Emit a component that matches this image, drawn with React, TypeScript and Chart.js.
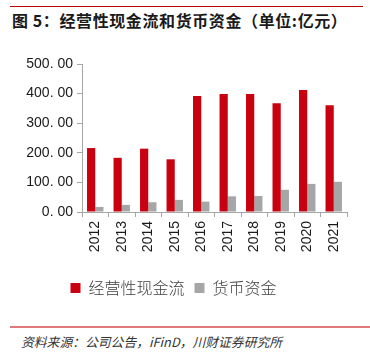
import React, { useEffect, useRef } from "react";
import { Chart, registerables } from "chart.js";

Chart.register(...registerables);

const years = ["2012", "2013", "2014", "2015", "2016", "2017", "2018", "2019", "2020", "2021"];
const operatingCashFlow = [216, 183, 214, 178, 392, 399, 399, 367, 412, 361];
const monetaryFunds = [17, 24, 33, 41, 35, 53, 54, 75, 95, 102];
const yTicks = [0, 100, 200, 300, 400, 500];

const titleText = "图 5：经营性现金流和货币资金（单位:亿元）";
const sourceText = "资料来源：公司公告，iFinD，川财证券研究所";
const seriesNames = ["经营性现金流", "货币资金"];

export default function App() {
  const ref = useRef<HTMLCanvasElement | null>(null);

  useEffect(() => {
    if (!ref.current) return;
    const axisColor = "#a6a6a6";
    const chart = new Chart(ref.current, {
      type: "bar",
      data: {
        labels: years,
        datasets: [
          {
            label: seriesNames[0],
            data: operatingCashFlow,
            backgroundColor: "#c8000f",
            categoryPercentage: 0.62,
            barPercentage: 1,
          },
          {
            label: seriesNames[1],
            data: monetaryFunds,
            backgroundColor: "#a6a6a6",
            categoryPercentage: 0.62,
            barPercentage: 1,
          },
        ],
      },
      options: {
        responsive: false,
        animation: false,
        layout: { padding: { top: 64, right: 23, left: 0, bottom: 0 } },
        plugins: {
          tooltip: { enabled: false },
          legend: {
            position: "bottom",
            labels: {
              boxWidth: 10,
              boxHeight: 10,
              padding: 10,
              color: "#404040",
              font: { family: "'Noto Sans CJK SC', sans-serif", size: 16, weight: 300 },
            },
          },
        },
        scales: {
          x: {
            grid: {
              display: true,
              drawOnChartArea: false,
              drawTicks: true,
              tickLength: 5,
              color: axisColor,
              offset: true,
            },
            border: { color: axisColor, width: 1 },
            ticks: {
              minRotation: 90,
              maxRotation: 90,
              color: "#1a1a1a",
              padding: 4,
              font: { family: "'Liberation Sans', Arial, sans-serif", size: 14 },
            },
            afterFit: (s: any) => {
              s.height = 58;
            },
          },
          y: {
            min: 0,
            max: 500,
            afterBuildTicks: (s: any) => {
              s.ticks = yTicks.map((v) => ({ value: v }));
            },
            grid: {
              display: true,
              drawOnChartArea: false,
              drawTicks: true,
              tickLength: 5,
              color: axisColor,
            },
            border: { color: axisColor, width: 1 },
            ticks: {
              color: "#1a1a1a",
              padding: 4,
              font: { family: "'Liberation Sans', Arial, sans-serif", size: 14 },
              callback: (v: any) => Number(v).toFixed(2).replace(".", ". "),
            },
            afterFit: (s: any) => {
              s.width = 82;
            },
          },
        },
      },
    });
    return () => chart.destroy();
  }, []);

  return (
    <div style={{ position: "absolute", left: 0, top: 0, width: 370, height: 363, background: "#fff", overflow: "hidden" }}>
      <div style={{ position: "absolute", left: 10, top: 6, width: 353, height: 1, background: "#c00000" }} />
      <div
        style={{
          position: "absolute",
          left: 12,
          top: 9,
          whiteSpace: "nowrap",
          fontFamily: "'Noto Sans CJK SC', sans-serif",
          fontWeight: 700,
          fontSize: 16,
          letterSpacing: 0.6,
          color: "#1a1a1a",
          lineHeight: "22px",
        }}
      >
        {titleText}
      </div>
      <canvas ref={ref} width={370} height={306} style={{ position: "absolute", left: 0, top: 0, width: 370, height: 306 }} />
      <div style={{ position: "absolute", left: 10, top: 326, width: 360, height: 1.5, background: "#e07a7a" }} />
      <div
        style={{
          position: "absolute",
          left: 21,
          top: 333,
          whiteSpace: "nowrap",
          fontFamily: "'Noto Sans CJK SC', sans-serif",
          fontStyle: "italic",
          fontSize: 12.8,
          color: "#333",
          lineHeight: "18px",
        }}
      >
        {sourceText}
      </div>
    </div>
  );
}
